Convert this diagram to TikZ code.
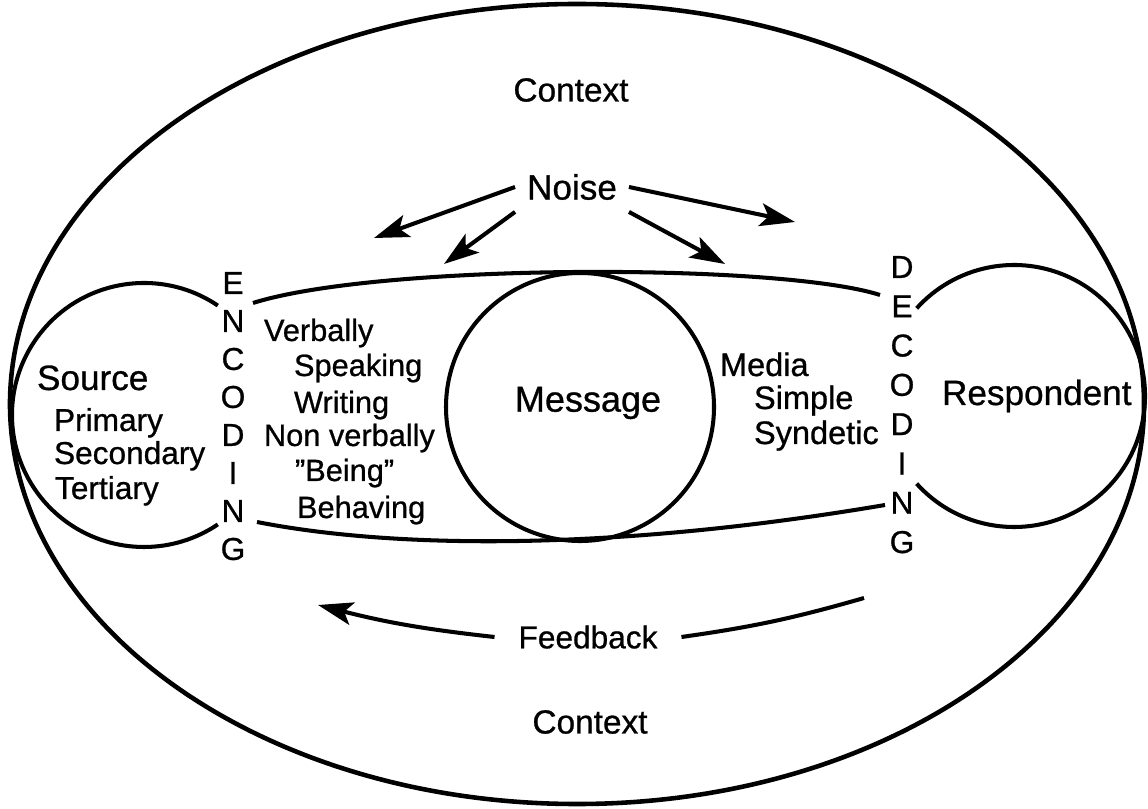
\documentclass[tikz,border=0pt]{standalone}
\usepackage{fontspec}
\setmainfont{Liberation Sans}[FakeBold=0.8]
\usetikzlibrary{arrows.meta}

\tikzset{
  big/.style={font=\fontsize{20}{22}\selectfont, inner sep=0pt},
  item/.style={font=\fontsize{17.5}{20}\selectfont, inner sep=0pt, anchor=base west},
  letter/.style={font=\fontsize{18}{20}\selectfont, inner sep=0pt},
  blob/.style={circle, minimum size=#1, inner sep=0pt, outer sep=0pt},
  tip/.style={-{Stealth[length=7mm,width=4.6mm,inset=1.6mm]}},
}

\begin{document}
\begin{tikzpicture}[x=0.2mm, y=0.2mm, line width=2.3pt]
  \useasboundingbox (0,0) rectangle (1148,808);
  \draw[line width=2.6pt] (577,404) ellipse [x radius=113.4mm, y radius=80mm]; % Draw the context

  \node[blob=52.8mm] (src) at (144,393) {}; % Source circle
  \node[blob=52.4mm] (resp) at (1014,412) {}; % Respondent circle
  \node[blob=53.6mm, draw] (msg) at (580,401) {}; % Message circle
  \node[big, font=\fontsize{20.5}{22}\selectfont] (message) at (588,405) {Message};
  \draw (src.56) arc[start angle=56, end angle=304, radius=26.4mm]; % Draw the source
  \draw (resp.-138) arc[start angle=-138, end angle=138, radius=26.2mm]; % Draw the respondent

  \draw (253,505) .. controls (380,545) and (780,545) .. (880,513); % Upper channel
  \draw (257,286) .. controls (400,258) and (620,258) .. (885,303); % Lower channel

  \foreach \l [count=\i from 0] in {E,N,C,O,D,I,N,G}
    \node[letter] (enc\i) at (233,525-38*\i) {\l}; % ENCODING
  \foreach \l [count=\i from 0] in {D,E,C,O,D,I,N,G}
    \node[letter] (dec\i) at (902,541-39.3*\i) {\l}; % DECODING

  \node[big, anchor=base west] (source) at (35,418) {Source};
  \node[item, font=\fontsize{18}{20}\selectfont] at (52,377) {Primary};
  \node[item, font=\fontsize{18}{20}\selectfont] at (52,344) {Secondary};
  \node[item, font=\fontsize{18}{20}\selectfont] at (53,309) {Tertiary};

  \node[item] at (262,467) {Verbally};
  \node[item] at (292,432) {Speaking};
  \node[item] at (292,395) {Writing};
  \node[item] at (262,362) {Non\ verbally};
  \node[item] at (293,327) {''Being''};
  \node[item] at (295,290) {Behaving};

  \node[item, font=\fontsize{18.5}{20}\selectfont] at (718,432) {Media};
  \node[item, font=\fontsize{18.5}{20}\selectfont] at (752,399) {Simple};
  \node[item, font=\fontsize{18.5}{20}\selectfont] at (752,364) {Syndetic};
  \node[big, anchor=base west] (respondent) at (940,403) {Respondent};

  \node[big, font=\fontsize{19}{21}\selectfont] (ctxtop) at (571,718) {Context};
  \node[big, font=\fontsize{19}{21}\selectfont] (ctxbot) at (590,86) {Context};

  \node[big, inner sep=2mm] (noise) at (572,621) {Noise};
  \coordinate (n1) at (374,570);
  \coordinate (n2) at (444,544);
  \coordinate (n3) at (725,544);
  \coordinate (n4) at (795,586);
  \draw[tip] (noise.west) -- (n1); % Noise arrows
  \draw[tip] (noise.south west) -- (n2);
  \draw[tip] (noise.south east) -- (n3);
  \draw[tip] (noise.east) -- (n4);

  \node[big, font=\fontsize{18}{20}\selectfont, inner xsep=4.4mm] (feedback) at (588,171) {Feedback};
  \coordinate (f1) at (318,203);
  \coordinate (f2) at (864,210);
  \draw[tip] (feedback.west) to[bend left=4] (f1); % Feedback arrow
  \draw (feedback.east) to[bend right=4] (f2);
\end{tikzpicture}
\end{document}
